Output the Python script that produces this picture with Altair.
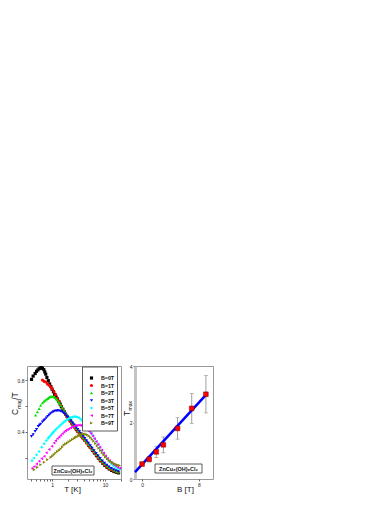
import altair as alt
import pandas as pd

# ---------------- data ----------------
names = ["B=0T", "B=1T", "B=2T", "B=3T", "B=5T", "B=7T", "B=9T"]
colors = ["#000000", "#ff0000", "#00e000", "#0000ff", "#00ffff", "#ff00ff", "#808000"]
shapes = ["square", "circle", "triangle-up", "triangle-down", "diamond", "triangle-left", "triangle-right"]

T_B0 = [0.41, 0.44, 0.48, 0.51, 0.54, 0.57, 0.60, 0.63, 0.66, 0.70, 0.73, 0.76, 0.80, 0.85, 0.90, 0.95, 1.0, 1.06,
        1.12, 1.19, 1.26, 1.34, 1.42, 1.5, 1.6, 1.7, 1.8, 1.92, 2.05, 2.2, 2.35, 2.5, 2.7, 2.9, 3.1, 3.35, 3.6, 3.9,
        4.2, 4.5, 4.9, 5.3, 5.8, 6.3, 6.9, 7.5, 8.2, 9.0, 9.9, 10.9, 12, 13.3, 14.7, 16.2, 18]
C_B0 = [0.805, 0.83, 0.85, 0.867, 0.878, 0.887, 0.893, 0.895, 0.89, 0.88, 0.862, 0.845, 0.82, 0.795, 0.77, 0.75,
        0.73, 0.71, 0.69, 0.67, 0.655, 0.635, 0.615, 0.595, 0.575, 0.555, 0.538, 0.52, 0.503, 0.487, 0.47, 0.455,
        0.438, 0.42, 0.405, 0.388, 0.37, 0.353, 0.335, 0.318, 0.298, 0.28, 0.258, 0.238, 0.218, 0.198, 0.178, 0.16,
        0.143, 0.128, 0.115, 0.104, 0.096, 0.09, 0.085]

T_B1 = [0.66, 0.71, 0.76, 0.82, 0.88, 0.95, 1.01, 1.09, 1.17, 1.26, 1.36, 1.46, 1.56, 1.68, 1.8, 1.93, 2.07, 2.22,
        2.4, 2.6, 2.8, 3.0, 3.25, 3.5, 3.8, 4.1, 4.45, 4.8, 5.2, 5.7, 6.2, 6.8, 7.4, 8.1, 8.9, 9.8, 10.8, 11.9, 13.1,
        14.5, 16, 17.8]
C_B1 = [0.80, 0.79, 0.785, 0.77, 0.76, 0.746, 0.73, 0.71, 0.687, 0.66, 0.636, 0.605, 0.58, 0.555, 0.535, 0.515,
        0.497, 0.48, 0.46, 0.44, 0.422, 0.405, 0.387, 0.37, 0.352, 0.335, 0.318, 0.3, 0.282, 0.262, 0.243, 0.222,
        0.203, 0.183, 0.165, 0.148, 0.133, 0.12, 0.11, 0.102, 0.096, 0.091]

T_B2 = [0.49, 0.53, 0.57, 0.61, 0.66, 0.70, 0.74, 0.78, 0.82, 0.86, 0.9, 0.95, 0.99, 1.04, 1.09, 1.14, 1.2, 1.26,
        1.33, 1.4, 1.48, 1.57, 1.67, 1.78, 1.9, 2.03, 2.17, 2.33, 2.5, 2.7, 2.9, 3.1, 3.35, 3.6, 3.9, 4.2, 4.55, 4.9,
        5.3, 5.8, 6.3, 6.9, 7.5, 8.2, 9.0, 9.9, 10.9, 12, 13.3, 14.7, 16.3, 18]
C_B2 = [0.53, 0.554, 0.58, 0.605, 0.625, 0.635, 0.644, 0.651, 0.656, 0.663, 0.67, 0.673, 0.675, 0.674, 0.67, 0.664,
        0.655, 0.645, 0.632, 0.618, 0.602, 0.585, 0.567, 0.548, 0.53, 0.512, 0.495, 0.478, 0.46, 0.442, 0.425, 0.408,
        0.39, 0.373, 0.355, 0.338, 0.32, 0.303, 0.285, 0.265, 0.246, 0.226, 0.207, 0.188, 0.17, 0.154, 0.139, 0.126,
        0.115, 0.106, 0.099, 0.093]

T_B3 = [0.41, 0.44, 0.48, 0.51, 0.55, 0.58, 0.61, 0.66, 0.70, 0.73, 0.78, 0.83, 0.88, 0.94, 1.0, 1.06, 1.13, 1.2,
        1.28, 1.36, 1.45, 1.55, 1.65, 1.76, 1.88, 2.0, 2.14, 2.3, 2.46, 2.65, 2.85, 3.05, 3.3, 3.55, 3.85, 4.15, 4.5,
        4.85, 5.25, 5.7, 6.2, 6.8, 7.4, 8.1, 8.9, 9.8, 10.8, 11.9, 13.1, 14.5, 16, 17.8]
C_B3 = [0.367, 0.38, 0.405, 0.42, 0.444, 0.452, 0.46, 0.477, 0.488, 0.495, 0.508, 0.52, 0.532, 0.542, 0.55, 0.556,
        0.56, 0.563, 0.564, 0.563, 0.56, 0.555, 0.547, 0.537, 0.525, 0.512, 0.498, 0.483, 0.468, 0.452, 0.436, 0.42,
        0.403, 0.386, 0.368, 0.35, 0.332, 0.314, 0.295, 0.276, 0.256, 0.236, 0.216, 0.197, 0.178, 0.16, 0.145, 0.131,
        0.12, 0.11, 0.102, 0.096]

T_B5 = [0.42, 0.46, 0.51, 0.57, 0.64, 0.71, 0.78, 0.84, 0.88, 0.94, 0.99, 1.04, 1.09, 1.17, 1.26, 1.36, 1.46, 1.57,
        1.68, 1.8, 1.94, 2.08, 2.25, 2.42, 2.6, 2.8, 3.0, 3.25, 3.5, 3.75, 4.05, 4.35, 4.7, 5.05, 5.45, 5.9, 6.35,
        6.85, 7.4, 8.0, 8.7, 9.4, 10.2, 11.1, 12.1, 13.2, 14.4, 15.8, 17.3, 19]
C_B5 = [0.18, 0.2, 0.225, 0.25, 0.283, 0.31, 0.333, 0.35, 0.36, 0.373, 0.385, 0.395, 0.405, 0.418, 0.43, 0.443,
        0.455, 0.466, 0.477, 0.486, 0.495, 0.503, 0.51, 0.515, 0.518, 0.518, 0.515, 0.508, 0.498, 0.485, 0.47, 0.453,
        0.435, 0.415, 0.394, 0.372, 0.35, 0.327, 0.304, 0.28, 0.256, 0.233, 0.211, 0.19, 0.171, 0.155, 0.141, 0.13,
        0.12, 0.112]

T_B7 = [0.42, 0.46, 0.51, 0.57, 0.64, 0.71, 0.78, 0.88, 0.99, 1.09, 1.17, 1.26, 1.36, 1.46, 1.57, 1.68, 1.8, 1.94,
        2.08, 2.25, 2.42, 2.6, 2.8, 3.0, 3.25, 3.5, 3.75, 4.05, 4.35, 4.7, 5.05, 5.45, 5.9, 6.35, 6.85, 7.4, 8.0, 8.7,
        9.4, 10.2, 11.1, 12.1, 13.2, 14.4, 15.8, 17.3, 19]
C_B7 = [0.12, 0.134, 0.154, 0.175, 0.195, 0.213, 0.24, 0.266, 0.29, 0.316, 0.333, 0.35, 0.362, 0.375, 0.388, 0.4,
        0.41, 0.418, 0.425, 0.432, 0.44, 0.445, 0.45, 0.452, 0.453, 0.451, 0.447, 0.44, 0.43, 0.418, 0.403, 0.387,
        0.368, 0.348, 0.327, 0.305, 0.283, 0.26, 0.238, 0.217, 0.198, 0.18, 0.165, 0.151, 0.14, 0.13, 0.122]

T_B9 = [0.46, 0.53, 0.61, 0.71, 0.82, 0.95, 1.02, 1.09, 1.17, 1.26, 1.36, 1.46, 1.57, 1.68, 1.8, 1.94, 2.08, 2.25,
        2.42, 2.6, 2.75, 2.9, 3.1, 3.3, 3.5, 3.75, 4.0, 4.3, 4.6, 4.95, 5.3, 5.7, 6.1, 6.6, 7.1, 7.6, 8.2, 8.8, 9.5,
        10.2, 11, 11.9, 12.8, 13.8, 14.9, 16.1, 17.4, 18.8]
C_B9 = [0.11, 0.128, 0.148, 0.167, 0.187, 0.205, 0.215, 0.226, 0.238, 0.25, 0.26, 0.27, 0.285, 0.3, 0.308, 0.315,
        0.325, 0.333, 0.342, 0.35, 0.357, 0.362, 0.37, 0.376, 0.381, 0.384, 0.385, 0.383, 0.378, 0.37, 0.358, 0.345,
        0.33, 0.312, 0.294, 0.276, 0.258, 0.24, 0.224, 0.208, 0.194, 0.182, 0.172, 0.163, 0.156, 0.15, 0.145, 0.141]

B_field = [0, 1, 2, 3, 5, 7, 9]
T_max = [0.53, 0.70, 0.96, 1.21, 1.79, 2.50, 3.00]
T_err = [0.05, 0.1, 0.2, 0.28, 0.38, 0.53, 0.66]
fit_B = [-1.0, 9.2]
fit_T = [0.24, 3.03]

compound = "ZnCu\u2083(OH)\u2086Cl\u2082"

# ---------------- tables ----------------
series = [(names[0], T_B0, C_B0), (names[1], T_B1, C_B1), (names[2], T_B2, C_B2), (names[3], T_B3, C_B3),
          (names[4], T_B5, C_B5), (names[5], T_B7, C_B7), (names[6], T_B9, C_B9)]
rows = []
for k, (nm, ts, cs) in enumerate(series):
    for t, c in zip(ts, cs):
        rows.append({"series": nm, "T": t, "C": c, "k": k})
df = pd.DataFrame(rows)
leg_df = pd.DataFrame({"series": names})
tm_df = pd.DataFrame({"B": B_field, "Tmax": T_max, "lo": [t - e for t, e in zip(T_max, T_err)],
                      "hi": [t + e for t, e in zip(T_max, T_err)]})
fit_df = pd.DataFrame({"B": fit_B, "T": fit_T})
one = pd.DataFrame({"a": [0]})

FONT = "Liberation Sans"
W1, W2, H = 94, 78, 113
MS = 10

color_scale = alt.Scale(domain=names, range=colors)
shape_scale = alt.Scale(domain=names, range=shapes)

# ---------------- left panel ----------------
xl = alt.X("T:Q", scale=alt.Scale(type="log", domain=[0.337, 20], nice=False),
           axis=alt.Axis(values=[0.4, 0.5, 0.6, 0.7, 0.8, 0.9, 1, 2, 3, 4, 5, 6, 7, 8, 9, 10, 20],
                         labelExpr="datum.value == 1 || datum.value == 10 ? datum.label : ''",
                         labelOverlap=False, title="T [K]", titleX=45, titleY=12,
                         titleBaseline="alphabetic", titleAlign="center", domain=False))
yl = alt.Y("C:Q", scale=alt.Scale(domain=[0.038, 0.908], nice=False, zero=False),
           axis=alt.Axis(values=[0.2, 0.4, 0.6, 0.8],
                         labelExpr="datum.value == 0.4 || datum.value == 0.8 ? datum.label : ''",
                         labelOverlap=False, title=None, domain=False))

scatter = alt.Chart(df).mark_point(filled=True, size=MS, opacity=1, strokeWidth=0).encode(
    x=xl, y=yl,
    color=alt.Color("series:N", scale=color_scale, legend=None),
    shape=alt.Shape("series:N", scale=shape_scale, legend=None),
    order=alt.Order("k:Q"),
)

leg_box = alt.Chart(one).mark_rect(fill="white", stroke="#333", strokeWidth=0.8).encode(
    x=alt.value(55.5), x2=alt.value(90.5), y=alt.value(1), y2=alt.value(65))
leg_y = alt.Y("series:N", scale=alt.Scale(type="point", domain=names, range=[12, 57], padding=0), axis=None)
leg_pts = alt.Chart(leg_df).mark_point(filled=True, size=MS, opacity=1, strokeWidth=0).encode(
    x=alt.value(64.5), y=leg_y,
    color=alt.Color("series:N", scale=color_scale, legend=None),
    shape=alt.Shape("series:N", scale=shape_scale, legend=None))
leg_txt = alt.Chart(leg_df).mark_text(align="left", baseline="middle", font=FONT, fontSize=5.3,
                                      fontWeight="bold", color="#111").encode(
    x=alt.value(74), y=leg_y, text="series:N")

box_l = alt.Chart(one).mark_rect(fill="white", stroke="#333", strokeWidth=0.8).encode(
    x=alt.value(25), x2=alt.value(67), y=alt.value(100), y2=alt.value(109))
box_l_txt = alt.Chart(one).mark_text(align="center", baseline="middle", font=FONT, fontSize=5.5,
                                     fontWeight="bold", color="#111", text=compound).encode(
    x=alt.value(46), y=alt.value(104.5))

ylab_C = alt.Chart(one).mark_text(angle=270, align="center", baseline="middle", font=FONT, fontSize=8.5,
                                  text="C", color="#111").encode(x=alt.value(-12), y=alt.value(46))
ylab_mag = alt.Chart(one).mark_text(angle=270, align="center", baseline="middle", font=FONT, fontSize=5,
                                    text="mag", color="#111").encode(x=alt.value(-8.5), y=alt.value(38))
ylab_T = alt.Chart(one).mark_text(angle=270, align="center", baseline="middle", font=FONT, fontSize=8.5,
                                  text="/T", color="#111").encode(x=alt.value(-12), y=alt.value(30))

left = alt.layer(scatter, leg_box, leg_pts, leg_txt, box_l, box_l_txt, ylab_C, ylab_mag, ylab_T).resolve_scale(
    y="independent").properties(width=W1, height=H)

# ---------------- right panel ----------------
xr = alt.X("B:Q", scale=alt.Scale(domain=[-1, 10], nice=False, zero=False),
           axis=alt.Axis(values=[0, 2, 4, 6, 8],
                         labelExpr="datum.value == 0 || datum.value == 4 || datum.value == 8 ? datum.label : ''",
                         labelOverlap=False, title="B [T]", titleX=50, titleY=12,
                         titleBaseline="alphabetic", titleAlign="center", domain=False))
yr_scale = alt.Scale(domain=[0, 4], nice=False)
yr_axis = alt.Axis(values=[0, 1, 2, 3, 4],
                   labelExpr="datum.value == 0 || datum.value == 2 || datum.value == 4 ? datum.label : ''",
                   labelOverlap=False, title=None, domainColor="#c4c4c4", domainWidth=3)

err = alt.Chart(tm_df).mark_rule(color="#888888", strokeWidth=0.8).encode(
    x=xr, y=alt.Y("lo:Q", scale=yr_scale, axis=yr_axis), y2="hi:Q")
cap_lo = alt.Chart(tm_df).mark_tick(color="#888888", orient="horizontal", size=4, thickness=0.8).encode(
    x="B:Q", y="lo:Q")
cap_hi = alt.Chart(tm_df).mark_tick(color="#888888", orient="horizontal", size=4, thickness=0.8).encode(
    x="B:Q", y="hi:Q")
fit = alt.Chart(fit_df).mark_line(color="#0000ff", strokeWidth=2.5).encode(x="B:Q", y="T:Q")
pts = alt.Chart(tm_df).mark_point(shape="square", filled=True, size=22, color="#ff0000", opacity=1,
                                  stroke="#700000", strokeWidth=0.5).encode(x="B:Q", y="Tmax:Q")

box_r = alt.Chart(one).mark_rect(fill="white", stroke="#333", strokeWidth=0.8).encode(
    x=alt.value(20), x2=alt.value(67), y=alt.value(98), y2=alt.value(107))
box_r_txt = alt.Chart(one).mark_text(align="center", baseline="middle", font=FONT, fontSize=5.5,
                                     fontWeight="bold", color="#111", text=compound).encode(
    x=alt.value(43.5), y=alt.value(102.5))
ylab_Tm = alt.Chart(one).mark_text(angle=270, align="center", baseline="middle", font=FONT, fontSize=8.5,
                                   text="T", color="#111").encode(x=alt.value(-8.3), y=alt.value(47.3))
ylab_max = alt.Chart(one).mark_text(angle=270, align="center", baseline="middle", font=FONT, fontSize=5,
                                    text="max", color="#111").encode(x=alt.value(-5), y=alt.value(39.8))

right = alt.layer(err, cap_lo, cap_hi, fit, pts, box_r, box_r_txt, ylab_Tm, ylab_max).properties(
    width=W2, height=H)

chart = alt.hconcat(left, right, spacing=0).properties(
    padding={"left": 2, "top": 355, "right": 5, "bottom": 5}
).configure_view(stroke="#999999", strokeWidth=1).configure_axis(
    grid=False, labelFont=FONT, labelFontSize=5, labelColor="#222", titleFont=FONT, titleFontSize=8,
    titleFontWeight="normal", titleColor="#111", tickSize=2, labelPadding=1, domainColor="#888",
    tickColor="#444", tickWidth=0.8)

chart.save("out.html", embed_options={"renderer": "svg", "actions": False})
